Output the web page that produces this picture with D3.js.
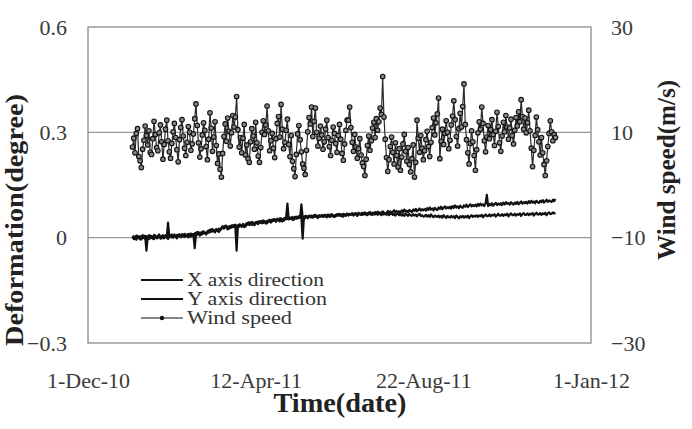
<!DOCTYPE html>
<html>
<head>
<meta charset="utf-8">
<script src="https://cdn.jsdelivr.net/npm/d3@7"></script>
<style>
  body { margin: 0; background: #fff; }
  svg { display: block; }
  text { font-family: "Liberation Serif", "Times New Roman", "DejaVu Serif", serif; }
</style>
</head>
<body>
<svg id="chart"></svg>
<script>
// x axis
const xTickDates = ['2010-12-01', '2011-04-12', '2011-08-22', '2012-01-01'];
const xTickLabels = ['1-Dec-10', '12-Apr-11', '22-Aug-11', '1-Jan-12'];
const firstDay = '2011-01-05'; // first daily reading

// left axis (deformation, degree) and right axis (wind, m/s)
const leftTicks = [-0.3, 0, 0.3, 0.6];
const rightTicks = [-30, -10, 10, 30];
const gridValues = [0, 0.3];

// wind speed (m/s), one value per day
const windSpeed = [
  7.2, 8.9, 6.1, 9.8, 10.7, 5.4, 4.6, 3.3, 6.8, 8.5,
  11.2, 9.4, 7.6, 10.3, 6.2, 5.8, 8.8, 12.1, 9.6, 7.1,
  6.5, 9.9, 11.4, 8.2, 4.9, 7.7, 10.6, 12.3, 8.4, 6.3,
  5.1, 7.9, 10.1, 11.7, 9.0, 6.7, 4.4, 8.6, 10.9, 12.4,
  9.3, 7.0, 5.6, 8.1, 11.1, 10.0, 6.6, 7.8, 9.7, 12.6,
  15.4, 11.3, 8.0, 5.3, 6.9, 9.5, 11.8, 10.4, 7.3, 4.8,
  8.7, 13.7, 10.8, 6.4, 9.1, 12.0, 7.5, 4.1, 5.9, 3.0,
  1.5, 6.0, 9.2, 11.6, 8.3, 12.7, 10.2, 7.4, 9.9, 13.2,
  11.0, 12.9, 16.8, 10.5, 7.2, 9.0, 6.1, 8.9, 11.5, 5.7,
  7.6, 5.0, 4.3, 8.2, 10.7, 9.3, 6.8, 11.9, 8.0, 5.5,
  4.3, 7.1, 10.0, 12.2, 9.6, 11.4, 15.0, 10.3, 6.5, 8.4,
  9.8, 7.0, 5.2, 8.8, 11.7, 13.0, 9.1, 15.3, 10.6, 6.9,
  8.1, 10.4, 12.5, 7.7, 5.4, 9.4, 4.5, 3.1, 1.6, 5.8,
  9.7, 11.3, 8.6, 6.3, 4.0, 3.2, 2.0, 6.6, 10.1, 12.8,
  11.6, 14.8, 9.2, 12.1, 14.6, 10.0, 7.4, 8.9, 11.2, 9.5,
  6.8, 8.2, 10.6, 12.3, 9.0, 7.3, 5.6, 8.5, 11.0, 9.8,
  7.9, 6.2, 9.4, 11.5, 8.7, 6.0, 4.7, 7.8, 10.4, 12.3,
  12.3, 14.8, 10.9, 8.1, 6.4, 9.6, 7.2, 5.1, 6.9, 8.8,
  5.7, 4.2, 3.5, 1.8, 4.9, 7.5, 9.3, 6.6, 8.4, 10.8,
  11.9, 9.0, 12.6, 10.4, 12.0, 14.6, 13.4, 20.6, 12.9, 8.7,
  5.2, 2.6, 4.8, 7.3, 9.1, 6.2, 4.0, 8.0, 5.6, 3.4,
  6.9, 2.8, 5.3, 7.8, 9.6, 6.4, 4.5, 7.1, 3.9, 2.5,
  5.0, 7.6, 1.5, 4.3, 12.3, 8.9, 6.2, 9.4, 7.0, 4.8,
  6.5, 8.6, 10.2, 7.3, 5.4, 8.1, 10.9, 12.7, 9.5, 11.8,
  13.5, 16.5, 5.0, 8.3, 10.6, 7.7, 9.8, 12.2, 10.0, 6.9,
  8.5, 11.4, 13.1, 16.0, 12.4, 9.2, 7.4, 10.7, 13.6, 11.0,
  14.9, 19.2, 11.5, 8.6, 6.1, 4.0, 7.9, 10.3, 8.2, 5.6,
  2.8, 6.7, 9.9, 12.0, 10.6, 14.8, 11.7, 8.4, 6.3, 9.1,
  11.3, 8.8, 10.5, 12.4, 9.6, 7.5, 10.2, 13.8, 11.1, 8.0,
  6.4, 9.3, 11.9, 10.1, 13.2, 11.0, 8.7, 10.8, 12.5, 9.4,
  7.8, 10.4, 12.8, 11.2, 13.9, 12.0, 16.2, 13.0, 10.6, 12.7,
  9.9, 11.8, 14.2, 10.3, 7.0, 3.5, 6.6, 9.4, 12.9, 10.5,
  8.2, 5.7, 9.0, 6.1, 3.9, 1.8, 4.6, 7.3, 9.8, 12.2,
  10.1, 8.4, 9.6, 9.0
];

// X axis direction deformation (degree), one value per day
const xDeform = [
  0.000, 0.004, -0.003, 0.006, -0.002, 0.003, -0.005, 0.002, 0.007, -0.001,
  0.005, -0.037, 0.003, -0.004, 0.006, 0.000, -0.003, 0.008, 0.002, -0.002,
  0.004, 0.009, -0.003, 0.005, 0.001, -0.002, 0.007, 0.003, -0.004, 0.006,
  0.002, 0.009, 0.000, 0.007, 0.003, -0.002, 0.008, 0.005, 0.001, 0.010,
  0.003, 0.011, 0.004, 0.009, 0.001, 0.008, 0.012, 0.005, 0.010, -0.030,
  0.008, 0.016, 0.011, 0.006, 0.015, 0.010, 0.018, 0.013, 0.009, 0.017,
  0.014, 0.022, 0.017, 0.024, 0.019, 0.015, 0.023, 0.020, 0.026, 0.021,
  0.025, 0.031, 0.027, 0.034, 0.029, 0.024, 0.032, 0.028, 0.035, 0.030,
  0.031, 0.037, 0.033, 0.029, 0.038, 0.034, 0.031, 0.039, 0.035, 0.032,
  0.038, 0.043, 0.036, 0.041, 0.045, 0.039, 0.035, 0.044, 0.040, 0.046,
  0.042, 0.047, 0.041, 0.049, 0.044, 0.040, 0.048, 0.045, 0.051, 0.043,
  0.047, 0.053, 0.049, 0.045, 0.054, 0.050, 0.046, 0.055, 0.051, 0.048,
  0.053, 0.058, 0.097, 0.052, 0.057, 0.054, 0.059, 0.051, 0.056, 0.060,
  0.055, 0.061, 0.057, 0.095, 0.058, 0.054, 0.062, 0.059, 0.055, 0.063,
  0.058, 0.063, 0.057, 0.061, 0.065, 0.059, 0.056, 0.064, 0.060, 0.062,
  0.059, 0.065, 0.061, 0.058, 0.066, 0.062, 0.060, 0.067, 0.063, 0.059,
  0.061, 0.067, 0.063, 0.068, 0.062, 0.066, 0.060, 0.067, 0.064, 0.069,
  0.063, 0.068, 0.065, 0.070, 0.064, 0.069, 0.066, 0.062, 0.071, 0.067,
  0.065, 0.071, 0.067, 0.072, 0.066, 0.070, 0.068, 0.073, 0.065, 0.071,
  0.067, 0.073, 0.069, 0.074, 0.068, 0.072, 0.070, 0.075, 0.071, 0.069,
  0.070, 0.076, 0.071, 0.075, 0.069, 0.074, 0.078, 0.072, 0.076, 0.073,
  0.075, 0.071, 0.078, 0.073, 0.080, 0.074, 0.077, 0.072, 0.079, 0.076,
  0.073, 0.080, 0.076, 0.082, 0.075, 0.079, 0.083, 0.077, 0.081, 0.078,
  0.082, 0.077, 0.084, 0.079, 0.086, 0.080, 0.083, 0.078, 0.085, 0.081,
  0.079, 0.086, 0.082, 0.088, 0.081, 0.085, 0.089, 0.083, 0.087, 0.084,
  0.088, 0.083, 0.090, 0.085, 0.092, 0.086, 0.089, 0.084, 0.091, 0.087,
  0.085, 0.092, 0.088, 0.094, 0.087, 0.091, 0.095, 0.089, 0.093, 0.090,
  0.094, 0.089, 0.096, 0.091, 0.097, 0.092, 0.095, 0.090, 0.097, 0.122,
  0.090, 0.096, 0.092, 0.098, 0.091, 0.095, 0.099, 0.093, 0.097, 0.094,
  0.098, 0.093, 0.100, 0.095, 0.101, 0.096, 0.099, 0.094, 0.101, 0.097,
  0.094, 0.100, 0.096, 0.102, 0.095, 0.099, 0.103, 0.097, 0.101, 0.098,
  0.102, 0.097, 0.104, 0.099, 0.105, 0.100, 0.103, 0.098, 0.105, 0.101,
  0.099, 0.105, 0.101, 0.107, 0.100, 0.104, 0.108, 0.102, 0.106, 0.103,
  0.102, 0.108, 0.104, 0.110
];

// Y axis direction deformation (degree), one value per day
const yDeform = [
  0.003, -0.004, 0.002, -0.006, 0.005, -0.001, 0.004, -0.005, 0.001, 0.006,
  -0.003, 0.004, 0.000, 0.007, -0.002, 0.005, 0.001, -0.004, 0.006, 0.002,
  -0.001, 0.006, 0.003, -0.002, 0.007, 0.001, 0.005, 0.000, 0.043, 0.004,
  0.007, 0.001, 0.006, 0.009, 0.002, 0.008, 0.004, 0.010, 0.003, 0.007,
  0.009, 0.002, 0.008, 0.004, 0.011, 0.006, 0.003, 0.010, 0.007, 0.012,
  0.014, 0.009, 0.016, 0.011, 0.008, 0.017, 0.012, 0.015, 0.010, 0.018,
  0.021, 0.016, 0.024, 0.018, 0.022, 0.017, 0.025, 0.020, 0.016, 0.024,
  0.027, 0.033, 0.026, 0.030, 0.034, 0.028, 0.025, 0.033, 0.029, 0.035,
  0.036, 0.032, -0.037, 0.035, 0.031, 0.037, 0.033, 0.036, 0.030, 0.038,
  0.041, 0.037, 0.044, 0.039, 0.036, 0.043, 0.038, 0.042, 0.045, 0.039,
  0.046, 0.043, 0.048, 0.042, 0.047, 0.044, 0.041, 0.049, 0.045, 0.050,
  0.051, 0.048, 0.053, 0.047, 0.052, 0.049, 0.055, 0.050, 0.046, 0.054,
  0.056, 0.052, 0.054, 0.058, 0.053, 0.057, 0.051, 0.056, 0.059, 0.054,
  0.059, 0.056, 0.061, 0.057, -0.003, 0.060, 0.056, 0.062, 0.058, 0.061,
  0.062, 0.058, 0.061, 0.064, 0.059, 0.063, 0.057, 0.062, 0.060, 0.065,
  0.063, 0.060, 0.065, 0.061, 0.064, 0.059, 0.066, 0.062, 0.060, 0.064,
  0.065, 0.062, 0.067, 0.063, 0.066, 0.061, 0.068, 0.064, 0.062, 0.067,
  0.064, 0.068, 0.065, 0.069, 0.063, 0.067, 0.070, 0.064, 0.068, 0.066,
  0.069, 0.065, 0.070, 0.066, 0.068, 0.064, 0.071, 0.067, 0.069, 0.065,
  0.070, 0.066, 0.069, 0.065, 0.071, 0.067, 0.064, 0.070, 0.066, 0.069,
  0.065, 0.069, 0.064, 0.068, 0.070, 0.065, 0.068, 0.063, 0.067, 0.069,
  0.064, 0.068, 0.063, 0.067, 0.062, 0.069, 0.065, 0.062, 0.067, 0.064,
  0.062, 0.067, 0.063, 0.066, 0.061, 0.065, 0.068, 0.062, 0.064, 0.060,
  0.061, 0.065, 0.060, 0.064, 0.059, 0.066, 0.062, 0.058, 0.063, 0.061,
  0.059, 0.063, 0.058, 0.062, 0.057, 0.064, 0.060, 0.056, 0.062, 0.059,
  0.057, 0.062, 0.058, 0.061, 0.056, 0.063, 0.059, 0.055, 0.061, 0.058,
  0.062, 0.057, 0.061, 0.058, 0.063, 0.056, 0.060, 0.064, 0.059, 0.062,
  0.060, 0.064, 0.059, 0.063, 0.061, 0.065, 0.058, 0.063, 0.066, 0.061,
  0.062, 0.066, 0.061, 0.065, 0.063, 0.067, 0.060, 0.064, 0.068, 0.063,
  0.063, 0.067, 0.062, 0.066, 0.064, 0.068, 0.061, 0.066, 0.069, 0.064,
  0.064, 0.068, 0.063, 0.067, 0.065, 0.069, 0.062, 0.067, 0.070, 0.065,
  0.065, 0.069, 0.064, 0.068, 0.066, 0.070, 0.063, 0.068, 0.071, 0.066,
  0.066, 0.070, 0.065, 0.069, 0.067, 0.071, 0.064, 0.069, 0.072, 0.067,
  0.068, 0.072, 0.069, 0.071
];

const legendLabels = ['X axis direction', 'Y axis direction', 'Wind speed'];
const legendWidths = [137, 140, 105];

const W = 692;
const H = 429;
const margin = { top: 27, right: 101, bottom: 86, left: 88 };
const width = W - margin.left - margin.right;
const height = H - margin.top - margin.bottom;

const svg = d3.select('#chart').attr('width', W).attr('height', H);
const g = svg.append('g').attr('transform', `translate(${margin.left},${margin.top})`);

const parse = d3.utcParse('%Y-%m-%d');
const start = parse(firstDay);
const dates = windSpeed.map((d, i) => d3.utcDay.offset(start, i));

const x = d3.scaleUtc().domain([parse(xTickDates[0]), parse(xTickDates[3])]).range([0, width]);
const yL = d3.scaleLinear().domain([-0.3, 0.6]).range([height, 0]);
const yR = d3.scaleLinear().domain([-30, 30]).range([height, 0]);

// grid
g.selectAll('.grid')
  .data(gridValues)
  .enter()
  .append('line')
  .attr('x1', 0)
  .attr('x2', width)
  .attr('y1', d => yL(d))
  .attr('y2', d => yL(d))
  .attr('stroke', '#9a9a9a')
  .attr('stroke-width', 1.2);

// frame
g.append('rect')
  .attr('width', width)
  .attr('height', height)
  .attr('fill', 'none')
  .attr('stroke', '#808080')
  .attr('stroke-width', 1.2);

// axes
const tickFont = 22;
const leftAxis = g.append('g')
  .call(d3.axisLeft(yL).tickValues(leftTicks).tickSize(0).tickPadding(21)
    .tickFormat(d => (d === 0 ? '0' : d3.format('.1f')(d))));
const rightAxis = g.append('g')
  .attr('transform', `translate(${width},0)`)
  .call(d3.axisRight(yR).tickValues(rightTicks).tickSize(0).tickPadding(20).tickFormat(d3.format('d')));
const bottomAxis = g.append('g')
  .attr('transform', `translate(0,${height})`)
  .call(d3.axisBottom(x).tickValues(xTickDates.map(parse)).tickSize(0).tickPadding(29)
    .tickFormat((d, i) => xTickLabels[i]));
[leftAxis, rightAxis, bottomAxis].forEach(a => {
  a.select('.domain').remove();
  a.attr('font-family', null);
  a.selectAll('text')
    .attr('font-size', tickFont)
    .attr('fill', '#3a3a3a');
});

// deformation lines
const lineL = d3.line().x((d, i) => x(dates[i])).y(d => yL(d));
[yDeform, xDeform].forEach(series => {
  g.append('path')
    .datum(series)
    .attr('d', lineL)
    .attr('fill', 'none')
    .attr('stroke', '#111')
    .attr('stroke-width', 2.2)
    .attr('stroke-linejoin', 'round');
});

// wind speed
const lineR = d3.line().x((d, i) => x(dates[i])).y(d => yR(d));
g.append('path')
  .datum(windSpeed)
  .attr('d', lineR)
  .attr('fill', 'none')
  .attr('stroke', '#2a2a2a')
  .attr('stroke-width', 1.2);
g.selectAll('.wind')
  .data(windSpeed)
  .enter()
  .append('circle')
  .attr('cx', (d, i) => x(dates[i]))
  .attr('cy', d => yR(d))
  .attr('r', 2.3)
  .attr('fill', '#888')
  .attr('stroke', '#111')
  .attr('stroke-width', 1.1);

// legend
const legend = g.append('g').attr('transform', 'translate(53,253)');
legendLabels.forEach((label, i) => {
  const row = legend.append('g').attr('transform', `translate(0,${i * 19})`);
  row.append('line')
    .attr('x1', 0).attr('x2', 42)
    .attr('stroke', '#111')
    .attr('stroke-width', i < 2 ? 2 : 1.2);
  if (i === 2) {
    row.append('circle').attr('cx', 21).attr('r', 2.2).attr('fill', '#111');
  }
  row.append('text')
    .attr('x', 46)
    .attr('y', 6)
    .attr('font-size', 19)
    .attr('fill', '#333')
    .attr('textLength', legendWidths[i])
    .attr('lengthAdjust', 'spacingAndGlyphs')
    .text(label);
});

// axis titles
svg.append('text')
  .attr('transform', 'translate(23,220) rotate(-90)')
  .attr('text-anchor', 'middle')
  .attr('font-size', 26)
  .attr('font-weight', 'bold')
  .attr('fill', '#222')
  .attr('textLength', 252)
  .attr('lengthAdjust', 'spacingAndGlyphs')
  .text('Deformation(degree)');
svg.append('text')
  .attr('transform', 'translate(675,170) rotate(-90)')
  .attr('text-anchor', 'middle')
  .attr('font-size', 25)
  .attr('font-weight', 'bold')
  .attr('fill', '#222')
  .attr('textLength', 180)
  .attr('lengthAdjust', 'spacingAndGlyphs')
  .text('Wind speed(m/s)');
svg.append('text')
  .attr('x', 340)
  .attr('y', 412)
  .attr('text-anchor', 'middle')
  .attr('font-size', 27)
  .attr('font-weight', 'bold')
  .attr('fill', '#222')
  .attr('textLength', 133)
  .attr('lengthAdjust', 'spacingAndGlyphs')
  .text('Time(date)');
</script>
</body>
</html>
